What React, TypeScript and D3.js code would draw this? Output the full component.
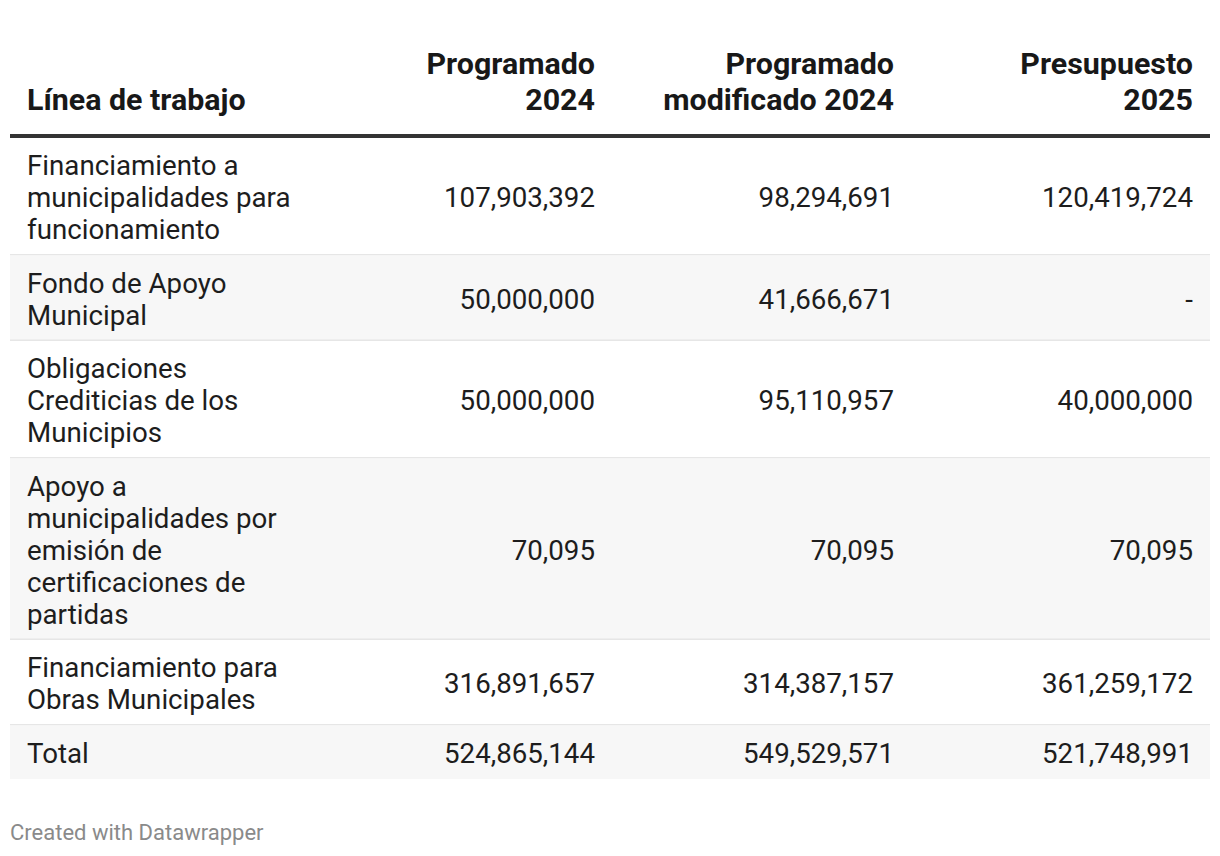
import React, { useMemo } from "react";
import * as d3 from "d3";

const columns = ["Programado 2024", "Programado modificado 2024", "Presupuesto 2025"];
const headerLines = [["Programado", "2024"], ["Programado", "modificado 2024"], ["Presupuesto", "2025"]];
const labelHeader = "Línea de trabajo";
const categories = [
  "Financiamiento a municipalidades para funcionamiento",
  "Fondo de Apoyo Municipal",
  "Obligaciones Crediticias de los Municipios",
  "Apoyo a municipalidades por emisión de certificaciones de partidas",
  "Financiamiento para Obras Municipales",
  "Total",
];
const programado2024 = [107903392, 50000000, 50000000, 70095, 316891657, 524865144];
const modificado2024 = [98294691, 41666671, 95110957, 70095, 314387157, 549529571];
const presupuesto2025: (number | null)[] = [120419724, null, 40000000, 70095, 361259172, 521748991];
const footerText = "Created with Datawrapper";

const W = 1220;
const H = 856;
const FONT = "Roboto, 'Noto Sans', sans-serif";
const BODY = 27.7;
const HEAD = 30.4;
const LH = 32;
const PAD = 21.5;
const TABLE_L = 10;
const TABLE_R = 1210;
const LABEL_COL_R = 313;
const CELL_PAD = 17;
const HEADER_LINE_Y = 136;
const TABLE_TOP = 138;

function wrap(text: string, maxW: number, font: string): string[] {
  const canvas = document.createElement("canvas");
  const ctx = canvas.getContext("2d")!;
  ctx.font = font;
  const words = text.split(" ");
  const lines: string[] = [];
  let cur = "";
  for (const w of words) {
    const test = cur ? cur + " " + w : w;
    if (ctx.measureText(test).width > maxW && cur) {
      lines.push(cur);
      cur = w;
    } else cur = test;
  }
  if (cur) lines.push(cur);
  return lines;
}

export default function App() {
  const fmt = d3.format(",");
  const x = d3.scaleBand<string>().domain(columns).range([LABEL_COL_R, TABLE_R]).padding(0);
  const values = [programado2024, modificado2024, presupuesto2025];

  const rows = useMemo(() => {
    let y = TABLE_TOP;
    return categories.map((c, i) => {
      const lines = wrap(c, 280, `${BODY}px Roboto`);
      const h = lines.length * LH + PAD;
      const r = { label: c, lines, y, h, i };
      y += h;
      return r;
    });
  }, []);

  return (
    <svg width={W} height={H} style={{ position: "absolute", left: 0, top: 0, background: "#fff" }} fontFamily={FONT}>
      {/* header */}
      <text x={TABLE_L + CELL_PAD} y={110} fontSize={HEAD} fontWeight={700} fill="#181818">{labelHeader}</text>
      {columns.map((col, ci) => (
        <text key={col} x={(x(col) as number) + x.bandwidth() - CELL_PAD} textAnchor="end" fontSize={HEAD} fontWeight={700} fill="#181818">
          {headerLines[ci].map((ln, li) => (
            <tspan key={li} x={(x(col) as number) + x.bandwidth() - CELL_PAD} y={110 - (headerLines[ci].length - 1 - li) * 36.5}>{ln}</tspan>
          ))}
        </text>
      ))}
      {/* rows */}
      {rows.map((r) => (
        <g key={r.label}>
          <rect x={TABLE_L} y={r.y} width={TABLE_R - TABLE_L} height={r.h} fill={r.i % 2 === 1 ? "#f7f7f7" : "#ffffff"} />
          {r.i < rows.length - 1 && (
            <rect x={TABLE_L} y={r.y + r.h - 1.5} width={TABLE_R - TABLE_L} height={1.5} fill="#e6e6e6" />
          )}
          <text fontSize={BODY} fill="#1d1d1d">
            {r.lines.map((ln, li) => (
              <tspan key={li} x={TABLE_L + CELL_PAD} y={r.y + 10.75 + 26.5 + li * LH}>{ln}</tspan>
            ))}
          </text>
          {columns.map((col, ci) => {
            const v = values[ci][r.i];
            const cy = r.y + r.h / 2 + 10.5;
            return (
              <text key={col} x={(x(col) as number) + x.bandwidth() - CELL_PAD} y={cy} textAnchor="end" fontSize={BODY} fill="#1d1d1d">
                {v == null ? "-" : fmt(v)}
              </text>
            );
          })}
        </g>
      ))}
      <rect x={TABLE_L} y={HEADER_LINE_Y - 2} width={TABLE_R - TABLE_L} height={4} fill="#333333" />
      <text x={TABLE_L} y={840} fontSize={22} fill="#8a8a8a">{footerText}</text>
    </svg>
  );
}
